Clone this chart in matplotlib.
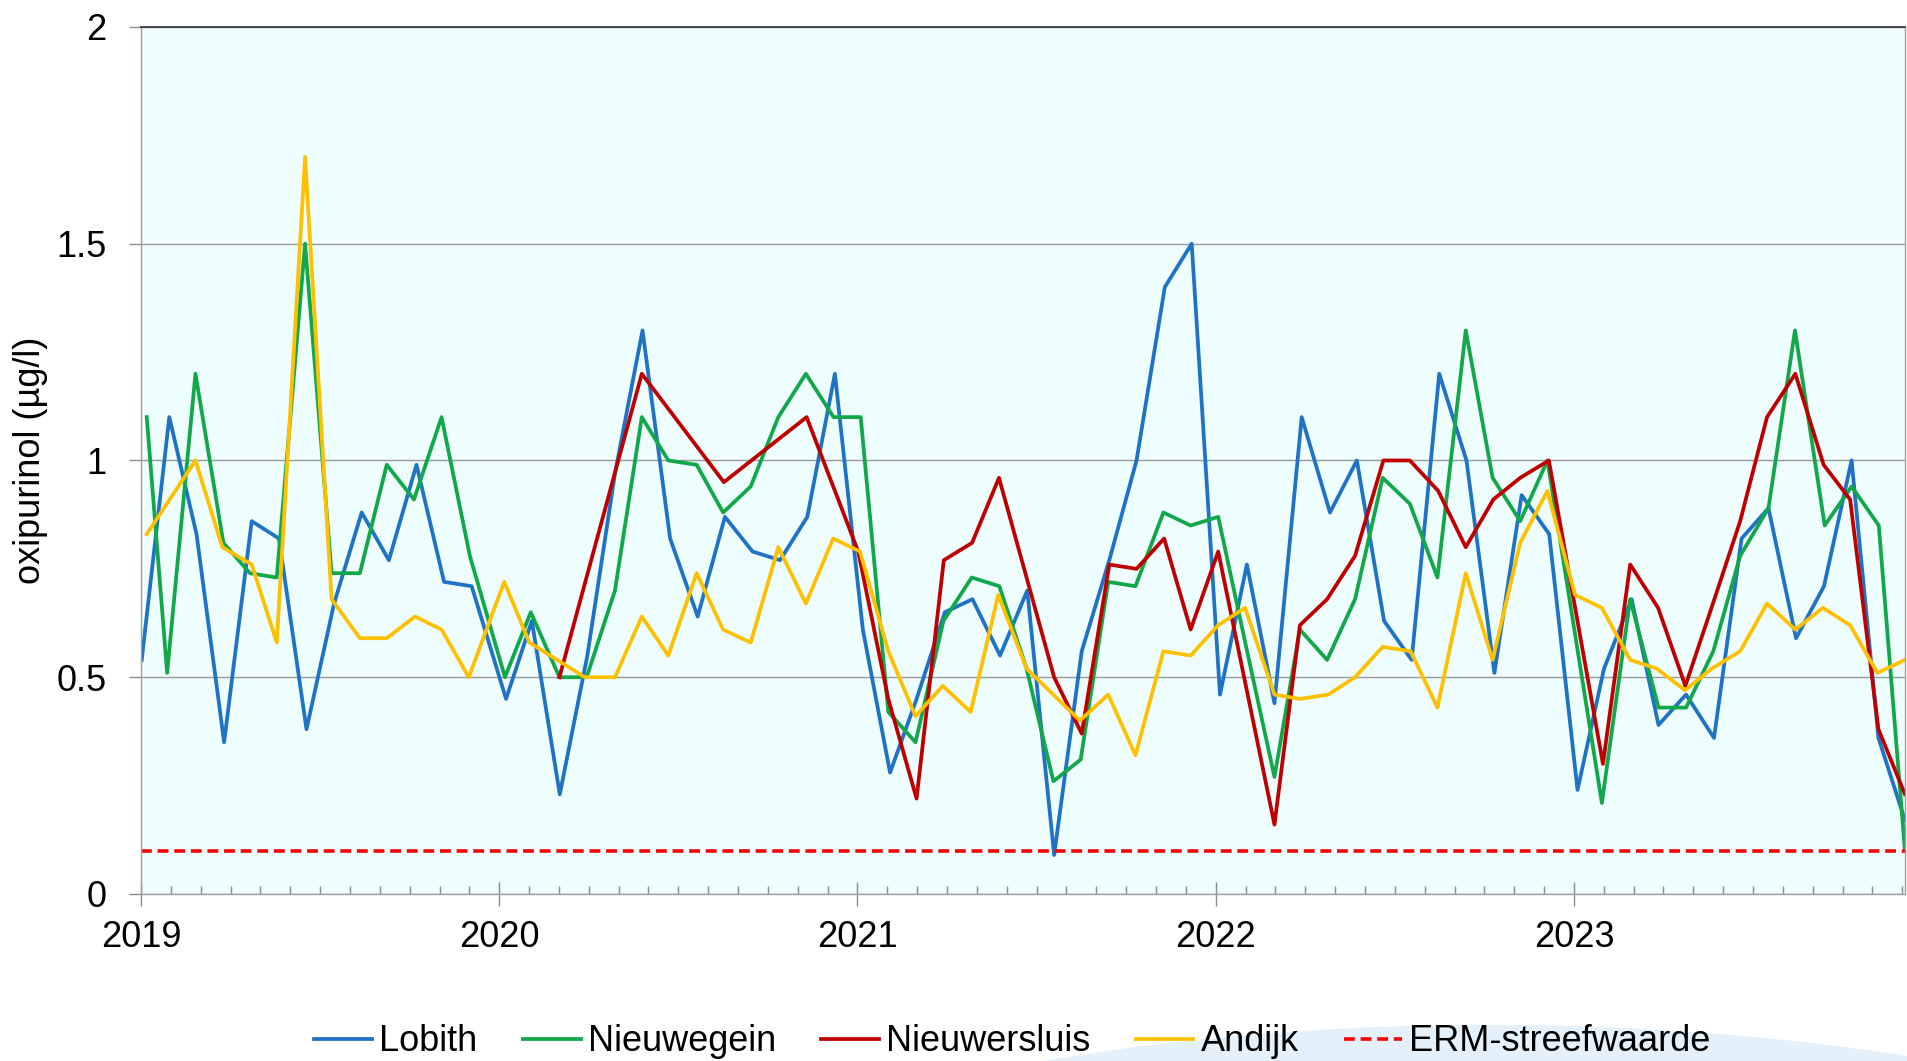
import numpy as np
import matplotlib
matplotlib.use("Agg")
import matplotlib.pyplot as plt
from matplotlib.patches import Ellipse
from matplotlib.ticker import MultipleLocator, FixedLocator

plt.rcParams['font.family'] = ['Liberation Sans', 'DejaVu Sans']

# sample dates as decimal years, values in ug/l
lobith_t = [2019.002, 2019.079, 2019.155, 2019.232, 2019.309, 2019.385, 2019.462, 2019.539, 2019.616, 2019.692, 2019.769, 2019.846, 2019.923,
            2020.019, 2020.091, 2020.169, 2020.246, 2020.323, 2020.400, 2020.477, 2020.554, 2020.630, 2020.707, 2020.784, 2020.860, 2020.937,
            2021.015, 2021.091, 2021.165, 2021.244, 2021.321, 2021.398, 2021.474, 2021.549, 2021.626, 2021.703, 2021.779, 2021.858, 2021.933,
            2022.012, 2022.087, 2022.164, 2022.240, 2022.319, 2022.394, 2022.470, 2022.547, 2022.624, 2022.700, 2022.778, 2022.854, 2022.931,
            2023.010, 2023.084, 2023.161, 2023.236, 2023.313, 2023.391, 2023.468, 2023.543, 2023.620, 2023.698, 2023.775, 2023.850, 2023.924]
lobith = [0.54, 1.10, 0.83, 0.35, 0.86, 0.82, 0.38, 0.67, 0.88, 0.77, 0.99, 0.72, 0.71,
          0.45, 0.63, 0.23, 0.55, 0.97, 1.30, 0.82, 0.64, 0.87, 0.79, 0.77, 0.87, 1.20,
          0.61, 0.28, 0.45, 0.65, 0.68, 0.55, 0.70, 0.09, 0.56, 0.77, 1.00, 1.40, 1.50,
          0.46, 0.76, 0.44, 1.10, 0.88, 1.00, 0.63, 0.54, 1.20, 1.00, 0.51, 0.92, 0.83,
          0.24, 0.52, 0.68, 0.39, 0.46, 0.36, 0.82, 0.89, 0.59, 0.71, 1.00, 0.36, 0.17]

nieuwegein_t = [2019.016, 2019.073, 2019.152, 2019.230, 2019.304, 2019.379, 2019.458, 2019.532, 2019.611, 2019.686, 2019.762, 2019.839, 2019.918,
                2020.016, 2020.088, 2020.168, 2020.244, 2020.323, 2020.398, 2020.472, 2020.551, 2020.625, 2020.702, 2020.779, 2020.856, 2020.933,
                2021.009, 2021.086, 2021.162, 2021.240, 2021.319, 2021.396, 2021.472, 2021.547, 2021.623, 2021.700, 2021.776, 2021.854, 2021.930,
                2022.007, 2022.085, 2022.164, 2022.235, 2022.311, 2022.389, 2022.466, 2022.542, 2022.619, 2022.698, 2022.773, 2022.850, 2022.926,
                2023.003, 2023.078, 2023.157, 2023.236, 2023.313, 2023.389, 2023.464, 2023.543, 2023.617, 2023.700, 2023.775, 2023.851, 2023.924]
nieuwegein = [1.10, 0.51, 1.20, 0.81, 0.74, 0.73, 1.50, 0.74, 0.74, 0.99, 0.91, 1.10, 0.78,
              0.50, 0.65, 0.50, 0.50, 0.70, 1.10, 1.00, 0.99, 0.88, 0.94, 1.10, 1.20, 1.10,
              1.10, 0.42, 0.35, 0.63, 0.73, 0.71, 0.52, 0.26, 0.31, 0.72, 0.71, 0.88, 0.85,
              0.87, 0.57, 0.27, 0.61, 0.54, 0.68, 0.96, 0.90, 0.73, 1.30, 0.96, 0.86, 1.00,
              0.60, 0.21, 0.68, 0.43, 0.43, 0.56, 0.78, 0.89, 1.30, 0.85, 0.94, 0.85, 0.10]

nieuwersluis_t = [2020.168, 2020.398, 2020.627, 2020.858, 2021.002,
                  2021.086, 2021.165, 2021.241, 2021.320, 2021.395, 2021.549, 2021.626, 2021.703, 2021.779, 2021.856, 2021.930,
                  2022.007, 2022.164, 2022.235, 2022.311, 2022.389, 2022.468, 2022.542, 2022.621, 2022.698, 2022.775, 2022.850, 2022.930,
                  2023.081, 2023.157, 2023.235, 2023.311, 2023.388, 2023.464, 2023.539, 2023.618, 2023.697, 2023.771, 2023.850, 2023.924]
nieuwersluis = [0.50, 1.20, 0.95, 1.10, 0.79,
                0.45, 0.22, 0.77, 0.81, 0.96, 0.50, 0.37, 0.76, 0.75, 0.82, 0.61,
                0.79, 0.16, 0.62, 0.68, 0.78, 1.00, 1.00, 0.93, 0.80, 0.91, 0.96, 1.00,
                0.30, 0.76, 0.66, 0.48, 0.67, 0.86, 1.10, 1.20, 0.99, 0.91, 0.38, 0.23]

andijk_t = [2019.016, 2019.152, 2019.227, 2019.309, 2019.379, 2019.458, 2019.532, 2019.611, 2019.686, 2019.765, 2019.839, 2019.915,
            2020.014, 2020.084, 2020.162, 2020.239, 2020.323, 2020.398, 2020.472, 2020.551, 2020.625, 2020.702, 2020.779, 2020.856, 2020.932,
            2021.007, 2021.086, 2021.162, 2021.238, 2021.316, 2021.393, 2021.472, 2021.621, 2021.700, 2021.776, 2021.854, 2021.930,
            2022.007, 2022.082, 2022.164, 2022.235, 2022.314, 2022.389, 2022.466, 2022.544, 2022.619, 2022.698, 2022.773, 2022.850, 2022.926,
            2023.003, 2023.078, 2023.157, 2023.231, 2023.310, 2023.385, 2023.464, 2023.539, 2023.618, 2023.695, 2023.771, 2023.847, 2023.924]
andijk = [0.83, 1.00, 0.80, 0.76, 0.58, 1.70, 0.68, 0.59, 0.59, 0.64, 0.61, 0.50,
          0.72, 0.58, 0.54, 0.50, 0.50, 0.64, 0.55, 0.74, 0.61, 0.58, 0.80, 0.67, 0.82,
          0.79, 0.56, 0.41, 0.48, 0.42, 0.69, 0.52, 0.40, 0.46, 0.32, 0.56, 0.55,
          0.62, 0.66, 0.46, 0.45, 0.46, 0.50, 0.57, 0.56, 0.43, 0.74, 0.54, 0.81, 0.93,
          0.69, 0.66, 0.54, 0.52, 0.47, 0.52, 0.56, 0.67, 0.61, 0.66, 0.62, 0.51, 0.54]

erm_value = 0.1
year_labels = ['2019', '2020', '2021', '2022', '2023']
years = [2019, 2020, 2021, 2022, 2023]
x_end = 2023.924

series = [
    ('Lobith', lobith_t, lobith, '#1f72c4'),
    ('Nieuwegein', nieuwegein_t, nieuwegein, '#12a84a'),
    ('Nieuwersluis', nieuwersluis_t, nieuwersluis, '#c00000'),
    ('Andijk', andijk_t, andijk, '#ffc000'),
]

fig = plt.figure(figsize=(19.08, 10.61), dpi=100)
ax = fig.add_axes([0.0739, 0.1574, 0.9245, 0.8172])
ax.set_facecolor('#eefdfd')

# faint logo arc in the background
fig.patches.append(Ellipse((0.781, -0.2865), 1.048, 0.641, transform=fig.transFigure,
                           facecolor='#e4f1fa', edgecolor='none', zorder=-10))

for name, t, v, c in series:
    ax.plot(t, v, color=c, lw=2.7, label=name)
ax.plot([2019, x_end], [erm_value, erm_value], color='#ff0000', lw=2.6,
        dashes=(3, 1.6), label='ERM-streefwaarde')

ax.set_xlim(2019, x_end)
ax.set_ylim(0, 2)
ax.set_yticks([0, 0.5, 1, 1.5, 2])
ax.set_yticklabels(['0', '0.5', '1', '1.5', '2'])
ax.yaxis.grid(True, color='#9a9a9a', lw=1)
ax.set_axisbelow(True)

ax.xaxis.set_major_locator(FixedLocator(years))
ax.set_xticklabels(year_labels)
ax.xaxis.set_minor_locator(MultipleLocator(1 / 12))

ax.tick_params(axis='x', which='major', direction='inout', length=17, width=1,
               color='#8c8c8c', labelsize=26, pad=10)
ax.tick_params(axis='x', which='minor', direction='in', length=6, width=1, color='#8c8c8c')
ax.tick_params(axis='y', which='major', direction='out', length=8.6, width=1,
               color='#8c8c8c', labelsize=26, pad=16)

for s in ['left', 'bottom', 'right']:
    ax.spines[s].set_color('#a0a0a0')
    ax.spines[s].set_linewidth(1)
ax.spines['top'].set_color('#303030')
ax.spines['top'].set_linewidth(1.2)

ax.set_ylabel('oxipurinol (µg/l)', fontsize=26)
ax.yaxis.set_label_coords(-0.053, 0.5)

fig.legend(loc='center', bbox_to_anchor=(0.5305, 0.018), ncol=5, frameon=False,
           fontsize=26, handlelength=1.6, handletextpad=0.2, columnspacing=1.25,
           borderpad=0)

fig.savefig('out.png', dpi=100)
